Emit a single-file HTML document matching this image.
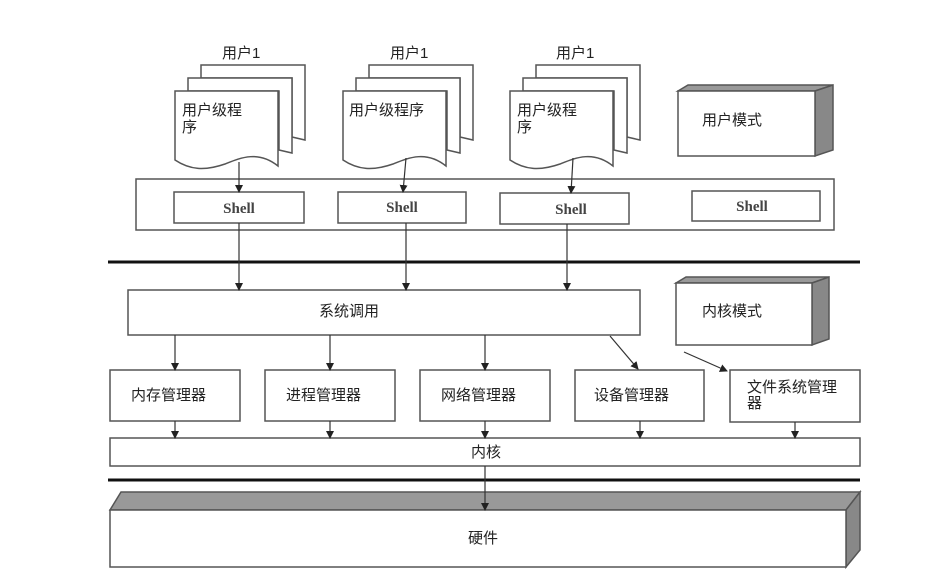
<!DOCTYPE html>
<html><head><meta charset="utf-8"><style>
html,body{margin:0;padding:0;background:#fff;}
svg{display:block;}
text{font-family:"Liberation Sans","Noto Sans CJK SC",sans-serif;font-size:15px;fill:#222;}
.s{font-family:"Liberation Serif",serif;font-size:15px;font-weight:bold;fill:#444;}
</style></head><body>
<svg width="933" height="580" viewBox="0 0 933 580" xmlns="http://www.w3.org/2000/svg">
<defs>
<marker id="b" markerWidth="8" markerHeight="8" refX="7" refY="4" orient="auto" markerUnits="userSpaceOnUse" viewBox="0 0 8 8"><path d="M0,0 L8,4 L0,8 Z" fill="#222"/></marker>
</defs>
<g fill="#fff" stroke="#555" stroke-width="1.5">
<g id="d1">
<path d="M201,65 H305 V140 L292,137 V78 H201 Z"/>
<path d="M188,78 H292 V153 L279,150 V91 H188 Z"/>
<path d="M175,91 H278 V166 C258,150 240,158 225,164 C205,171 190,170 175,160 Z"/>
</g>
<use href="#d1" x="168"/>
<use href="#d1" x="335"/>
<rect x="136" y="179" width="698" height="51"/>
<rect x="174" y="192" width="130" height="31"/>
<rect x="338" y="192" width="128" height="31"/>
<rect x="500" y="193" width="129" height="31"/>
<rect x="692" y="191" width="128" height="30"/>
<path d="M678,91 L688,85 H833 L815,91 Z" fill="#999"/>
<path d="M815,91 L833,85 V150 L815,156 Z" fill="#888"/>
<rect x="678" y="91" width="137" height="65"/>
<rect x="128" y="290" width="512" height="45"/>
<path d="M676,283 L686,277 H829 L812,283 Z" fill="#999"/>
<path d="M812,283 L829,277 V339 L812,345 Z" fill="#888"/>
<rect x="676" y="283" width="136" height="62"/>
<rect x="110" y="370" width="130" height="51"/>
<rect x="265" y="370" width="130" height="51"/>
<rect x="420" y="370" width="130" height="51"/>
<rect x="575" y="370" width="129" height="51"/>
<rect x="730" y="370" width="130" height="52"/>
<rect x="110" y="438" width="750" height="28"/>
<path d="M110,510 L121,492 H860 L846,510 Z" fill="#999"/>
<path d="M846,510 L860,492 V550 L846,567 Z" fill="#888"/>
<rect x="110" y="510" width="736" height="57"/>
</g>
<line x1="108" y1="262" x2="860" y2="262" stroke="#111" stroke-width="3"/>
<line x1="108" y1="480" x2="860" y2="480" stroke="#111" stroke-width="3"/>
<g stroke="#333" stroke-width="1.2" fill="none" marker-end="url(#b)">
<line x1="239" y1="162" x2="239" y2="192"/>
<line x1="406" y1="158" x2="403" y2="192"/>
<line x1="573" y1="158" x2="571" y2="193"/>
<line x1="239" y1="223" x2="239" y2="290"/>
<line x1="406" y1="223" x2="406" y2="290"/>
<line x1="567" y1="224" x2="567" y2="290"/>
<line x1="175" y1="335" x2="175" y2="370"/>
<line x1="330" y1="335" x2="330" y2="370"/>
<line x1="485" y1="335" x2="485" y2="370"/>
<line x1="175" y1="421" x2="175" y2="438"/>
<line x1="330" y1="421" x2="330" y2="438"/>
<line x1="485" y1="421" x2="485" y2="438"/>
<line x1="640" y1="421" x2="640" y2="438"/>
<line x1="795" y1="422" x2="795" y2="438"/>
<line x1="485" y1="466" x2="485" y2="510"/>
<line x1="610" y1="336" x2="638" y2="369"/>
<line x1="684" y1="352" x2="727" y2="371"/>
</g>
<text x="222" y="58">用户1</text>
<text x="390" y="58">用户1</text>
<text x="556" y="58">用户1</text>
<text x="182" y="115">用户级程</text><text x="182" y="132">序</text>
<text x="349" y="115">用户级程序</text>
<text x="517" y="115">用户级程</text><text x="517" y="132">序</text>
<text class="s" x="239" y="213" text-anchor="middle">Shell</text>
<text class="s" x="402" y="212" text-anchor="middle">Shell</text>
<text class="s" x="571" y="214" text-anchor="middle">Shell</text>
<text class="s" x="752" y="211" text-anchor="middle">Shell</text>
<text x="702" y="125">用户模式</text>
<text x="702" y="316">内核模式</text>
<text x="319" y="316">系统调用</text>
<text x="131" y="400">内存管理器</text>
<text x="286" y="400">进程管理器</text>
<text x="441" y="400">网络管理器</text>
<text x="594" y="400">设备管理器</text>
<text x="747" y="392">文件系统管理</text><text x="747" y="408">器</text>
<text x="471" y="457">内核</text>
<text x="468" y="543">硬件</text>
</svg>
</body></html>
